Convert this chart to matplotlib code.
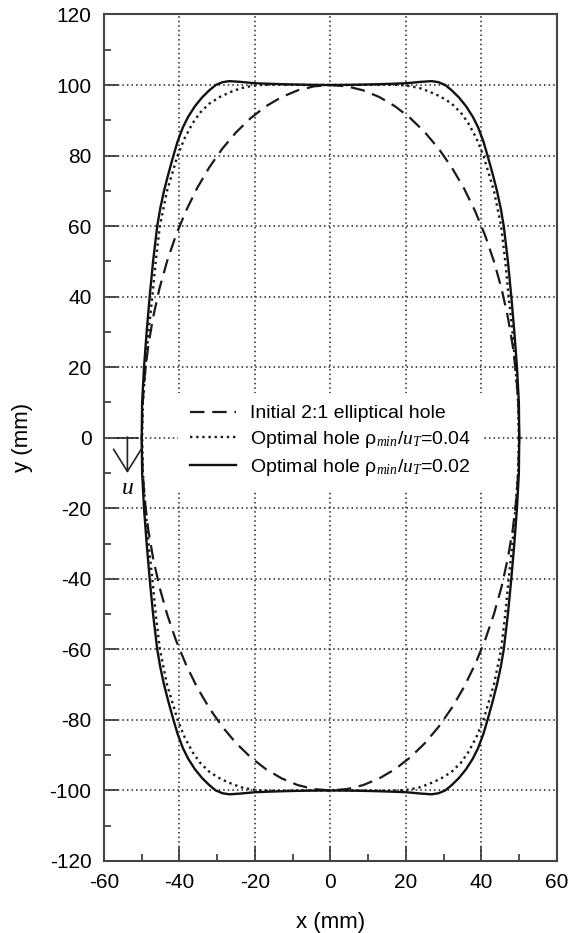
import numpy as np
import matplotlib
matplotlib.use("Agg")
import matplotlib.pyplot as plt

plt.rcParams['font.family'] = ['Liberation Sans', 'DejaVu Sans']
plt.rcParams['mathtext.fontset'] = 'custom'
plt.rcParams['mathtext.rm'] = 'Liberation Sans'
plt.rcParams['mathtext.it'] = 'Liberation Serif:italic'
plt.rcParams['axes.unicode_minus'] = False

# ── data: first quadrant of each hole boundary (mm), mirrored below ──
ellipse_x = [50.0, 49.81, 49.24, 48.30, 46.98, 45.32, 43.30, 40.96, 38.30, 35.36,
             32.14, 28.68, 25.00, 21.13, 17.10, 12.94, 8.68, 4.36, 0.0]
ellipse_y = [0.0, 8.72, 17.36, 25.88, 34.20, 42.26, 50.00, 57.36, 64.28, 70.71,
             76.60, 81.92, 86.60, 90.63, 93.97, 96.59, 98.48, 99.62, 100.0]

opt04_x = [49.9, 49.7, 49.0, 48.2, 47.2, 46.3, 45.2, 43.3, 40.5, 38.6, 36.5,
           34.5, 32.0, 29.0, 26.0, 23.7, 21.0, 18.4, 15.0, 10.0, 5.0, 0.0]
opt04_y = [0, 10, 20, 30, 40, 50, 60, 70, 80, 85, 89.2,
           92.2, 94.8, 96.8, 98.2, 99.1, 99.7, 100.0, 100.1, 100.05, 100.0, 100.0]

opt02_x = [50.0, 49.9, 49.4, 48.7, 47.9, 47.0, 45.9, 45.1, 44.1, 42.9, 41.6, 40.5,
           39.1, 37.7, 35.9, 34.0, 32.1, 30.4, 28.6, 26.8, 24.0, 20.0, 15.0, 10.0,
           5.0, 0.0]
opt02_y = [0, 10, 20, 30, 40, 50, 60, 65, 70, 75, 80, 84,
           88, 91, 94, 96.5, 98.5, 100.0, 100.8, 101.1, 100.9, 100.5, 100.3, 100.15,
           100.05, 100.0]

labels = ["Initial 2:1 elliptical hole",
          r"Optimal hole $\mathrm{\rho}_{min}/u_T$=0.04",
          r"Optimal hole $\mathrm{\rho}_{min}/u_T$=0.02"]


def mirror(qx, qy):
    """quarter (x>=0, y>=0, from y=0 up to x=0) -> closed full curve"""
    qx = np.asarray(qx, float)
    qy = np.asarray(qy, float)
    x = np.concatenate([qx, -qx[::-1], -qx, qx[::-1]])
    y = np.concatenate([qy, qy[::-1], -qy, -qy[::-1]])
    return x, y


fig = plt.figure(figsize=(5.68, 9.33), dpi=100)
ax = fig.add_axes([0.1831, 0.0772, 0.7975, 0.9073])

ex, ey = mirror(ellipse_x, ellipse_y)
ax.plot(ex, ey, color="#1a1a1a", lw=1.6, dashes=(6.5, 3.5), label=labels[0])
px, py = mirror(opt04_x, opt04_y)
ax.plot(px, py, color="#1a1a1a", lw=1.7, linestyle=(0, (1, 1.6)), label=labels[1])
sx, sy = mirror(opt02_x, opt02_y)
ax.plot(sx, sy, color="#111111", lw=1.7, label=labels[2])

ax.set_xlim(-60, 60)
ax.set_ylim(-120, 120)
ax.set_xticks(np.arange(-60, 61, 20))
ax.set_yticks(np.arange(-120, 121, 20))
ax.set_xticks(np.arange(-50, 60, 20), minor=True)
ax.set_yticks(np.arange(-110, 120, 20), minor=True)
ax.tick_params(which="both", direction="in", top=False, right=False,
               labelsize=15, color="#333333")
ax.tick_params(which="major", length=10, width=1.2, pad=9)
ax.tick_params(which="minor", length=5, width=1.2)
for sp in ax.spines.values():
    sp.set_color("#444444")
    sp.set_linewidth(1.5)

ax.set_axisbelow(True)
ax.grid(True, which="major", color="#222222", lw=1.1, linestyle=(0, (1, 2)))

ax.set_xlabel("x (mm)", fontsize=16, labelpad=14)
ax.set_ylabel("y (mm)", fontsize=16, labelpad=12)

# load direction arrow
ax.plot([-56.6, -51.0], [0, 0], color="#222222", lw=1.2)
ax.annotate("", xy=(-53.8, -10.0), xytext=(-53.8, 0.2),
            arrowprops=dict(arrowstyle="->,head_length=0.8,head_width=0.5",
                            color="#222222", lw=1.2, mutation_scale=20,
                            shrinkA=0, shrinkB=0))
ax.text(-53.8, -14.5, "u", fontsize=17, family="Liberation Serif",
        style="italic", ha="center", va="center")

leg = ax.legend(loc="center", bbox_to_anchor=(0.5, 0.4956), fontsize=14,
                frameon=True, fancybox=False, edgecolor="none", facecolor="white",
                framealpha=1, handlelength=2.4, handletextpad=0.7,
                labelspacing=0.35, borderpad=0.6)

fig.savefig("out.png", dpi=100)
